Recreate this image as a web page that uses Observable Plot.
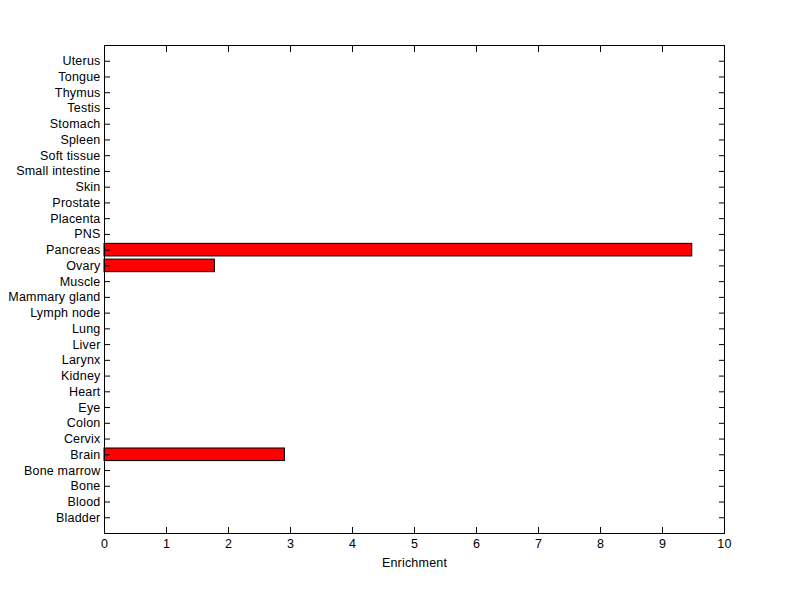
<!DOCTYPE html>
<html>
<head>
<meta charset="utf-8">
<script src="https://cdn.jsdelivr.net/npm/d3@7"></script>
<script src="https://cdn.jsdelivr.net/npm/@observablehq/plot@0.6"></script>
<style>
  html, body { margin: 0; padding: 0; background: #fff; }
  #chart svg { display: block; }
  #chart svg text { letter-spacing: 0.2px; }
</style>
</head>
<body>
<div id="chart"></div>
<script>
// Categories bottom -> top as in the figure
const tissues = ["Bladder","Blood","Bone","Bone marrow","Brain","Cervix","Colon","Eye","Heart","Kidney","Larynx","Liver","Lung","Lymph node","Mammary gland","Muscle","Ovary","Pancreas","PNS","Placenta","Prostate","Skin","Small intestine","Soft tissue","Spleen","Stomach","Testis","Thymus","Tongue","Uterus"];
const enrichment = [0,0,0,0,2.91,0,0,0,0,0,0,0,0,0,0,0,1.78,9.48,0,0,0,0,0,0,0,0,0,0,0,0];
const xTicks = [0,1,2,3,4,5,6,7,8,9,10];

const data = tissues.map((t, i) => ({tissue: t, value: enrichment[i]}));
const domainTopDown = tissues.slice().reverse();

const chart = Plot.plot({
  width: 800,
  height: 599,
  marginLeft: 104,
  marginRight: 76,
  marginTop: 45,
  marginBottom: 66,
  style: {fontFamily: "'Liberation Sans', Arial, sans-serif", fontSize: "12.5px", color: "black", background: "white"},
  x: {domain: [0, 10], ticks: xTicks},
  y: {type: "band", domain: domainTopDown, paddingInner: 0.2, paddingOuter: 0.6, round: false},
  marks: [
    Plot.barX(data.filter(d => d.value > 0), {x: "value", y: "tissue", fill: "#ff0000", stroke: "black", strokeWidth: 1}),
    Plot.frame({stroke: "black", strokeWidth: 1}),
    Plot.axisY({anchor: "left", tickSize: 0, tickPadding: 4, label: null, fontSize: 12.5}),
    Plot.axisY({anchor: "left", tickSize: -6, tickFormat: () => "", label: null}),
    Plot.axisY({anchor: "right", tickSize: -6, tickFormat: () => "", label: null}),
    Plot.axisX(xTicks, {anchor: "bottom", tickSize: 0, tickPadding: 6, label: "Enrichment", labelAnchor: "center", labelArrow: "none", labelOffset: 33, fontSize: 12.5}),
    Plot.axisX(xTicks, {anchor: "bottom", tickSize: -6, tickFormat: () => "", label: null}),
    Plot.axisX(xTicks, {anchor: "top", tickSize: -6, tickFormat: () => "", label: null})
  ]
});
document.getElementById("chart").appendChild(chart);
</script>
</body>
</html>
